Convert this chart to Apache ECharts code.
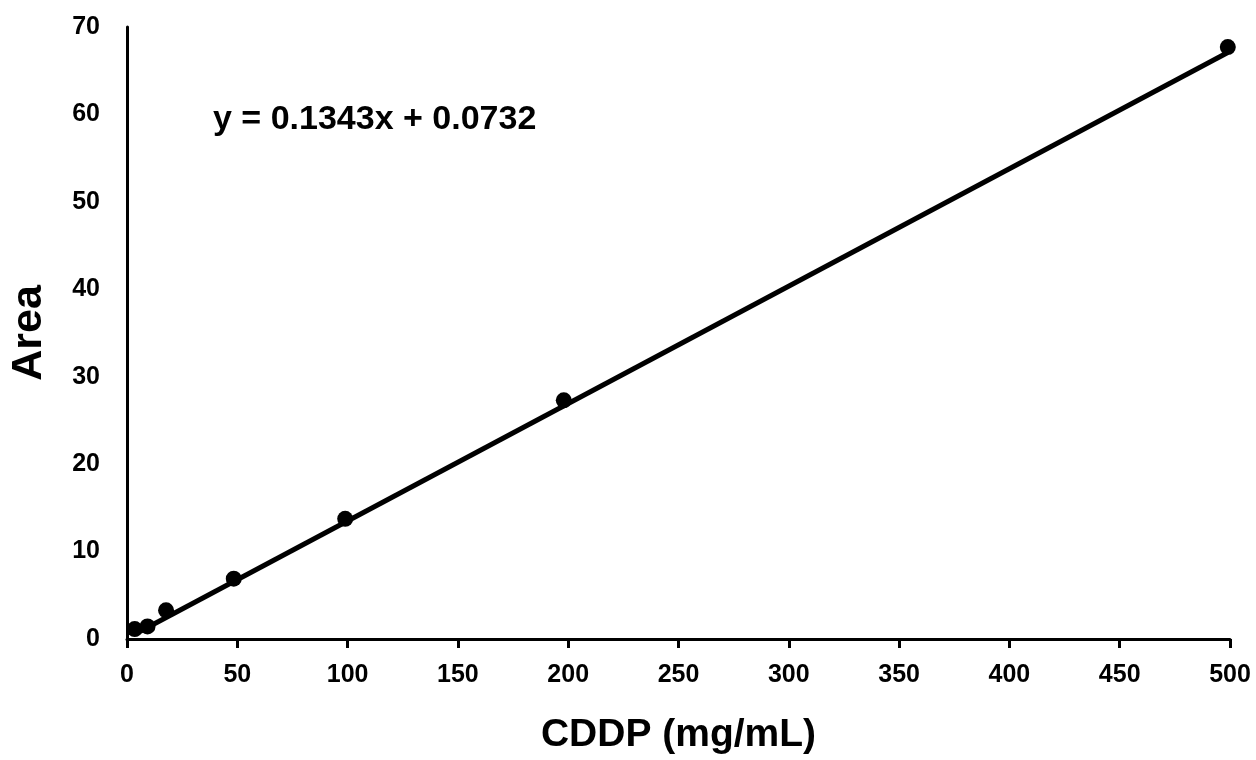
<!DOCTYPE html>
<html>
<head>
<meta charset="utf-8">
<script src="https://cdn.jsdelivr.net/npm/echarts@6/dist/echarts.min.js"></script>
<style>
  html, body { margin: 0; padding: 0; background: #fff; }
  #chart { width: 1256px; height: 760px; }
</style>
</head>
<body>
<div id="chart"></div>
<script>
const concentration = [3.5, 9.3, 17.7, 48.4, 98.9, 198, 499]
const area = [1.13, 1.44, 3.28, 6.9, 13.75, 27.3, 67.7]

// trendline end points, y = 0.1343x + 0.0732
const trendX = [3.5, 499]
const trendY = [0.54, 67.09]

const equationText = 'y = 0.1343x + 0.0732'

const font = 'Liberation Sans, Arial, sans-serif'

const chart = echarts.init(document.getElementById('chart'))
chart.setOption({
  animation: false,
  textStyle: { fontFamily: font },
  grid: { left: 123, right: 26, top: 27, bottom: 115 },
  title: {
    text: equationText,
    left: 208,
    top: 98,
    textStyle: { fontSize: 34, fontWeight: 'bold', color: '#000', fontFamily: font }
  },
  xAxis: {
    type: 'value',
    min: 0,
    max: 500,
    interval: 50,
    name: 'CDDP (mg/mL)',
    nameLocation: 'center',
    nameGap: 77,
    nameTextStyle: { fontSize: 39, fontWeight: 'bold', color: '#000' },
    axisLine: { lineStyle: { color: '#000', width: 3 } },
    axisTick: { show: true, length: 9, lineStyle: { color: '#000', width: 3 } },
    axisLabel: { fontSize: 25, fontWeight: 'bold', color: '#000', margin: 24 },
    splitLine: { show: false }
  },
  yAxis: {
    type: 'value',
    min: 0,
    max: 70,
    interval: 10,
    name: 'Area',
    nameLocation: 'center',
    nameGap: 76,
    nameTextStyle: { fontSize: 43, fontWeight: 'bold', color: '#000' },
    axisLine: { show: true, lineStyle: { color: '#000', width: 3 } },
    axisTick: { show: false },
    axisLabel: { fontSize: 25, fontWeight: 'bold', color: '#000', margin: 27 },
    splitLine: { show: false }
  },
  series: [
    {
      name: 'trend',
      type: 'line',
      data: trendX.map((x, i) => [x, trendY[i]]),
      showSymbol: false,
      lineStyle: { color: '#000', width: 5 },
      z: 2
    },
    {
      name: 'Area',
      type: 'scatter',
      data: concentration.map((x, i) => [x, area[i]]),
      symbol: 'circle',
      symbolSize: 16,
      itemStyle: { color: '#000', opacity: 1 },
      z: 3
    }
  ]
})
</script>
</body>
</html>
